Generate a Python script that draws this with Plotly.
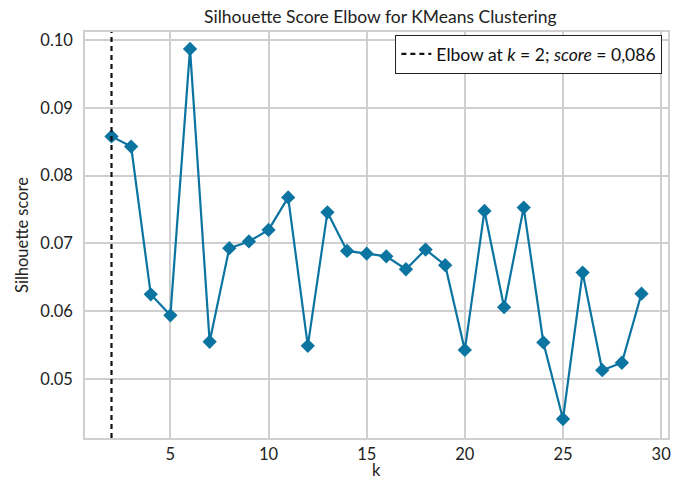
import plotly.graph_objects as go

k_values = list(range(2, 30))
silhouette_scores = [0.0858, 0.0843, 0.0625, 0.0594, 0.0987, 0.0555, 0.0693, 0.0703,
                     0.0720, 0.0768, 0.0549, 0.0746, 0.0689, 0.0685, 0.0681, 0.0662,
                     0.0691, 0.0668, 0.0543, 0.0748, 0.0606, 0.0753, 0.0554, 0.0441,
                     0.0657, 0.0513, 0.0524, 0.0626]
elbow_k = 2
elbow_score = 0.086
x_ticks = [5, 10, 15, 20, 25, 30]
y_ticks = [0.05, 0.06, 0.07, 0.08, 0.09, 0.10]
y_tick_labels = ["0.05", "0.06", "0.07", "0.08", "0.09", "0.10"]
x_label = "k"

FONT = "Lato"
BLUE = "#0b74a0"
GRID = "#cfcfcf"
DASH = "5px,4px"

W, H = 685, 479
PLOT_H = H - 32 - 41

fig = go.Figure()
fig.add_trace(go.Scatter(
    x=k_values, y=silhouette_scores, mode="lines+markers",
    line=dict(color=BLUE, width=2.2),
    marker=dict(symbol="diamond", size=11, color=BLUE),
    showlegend=False, hoverinfo="x+y",
))
fig.add_trace(go.Scatter(
    x=[None], y=[None], mode="lines",
    line=dict(color="#111111", width=2.2, dash=DASH),
    name=f"Elbow at <i>k</i> = {elbow_k}; <i>score</i> = {elbow_score:.3f}".replace(".", ","),
    showlegend=True,
))
fig.add_vline(x=elbow_k, line=dict(color="#111111", width=2.2, dash=DASH), layer="above")

fig.add_annotation(text=x_label, xref="paper", yref="paper",
                   x=0.5, y=-(470 - (H - 41)) / PLOT_H,
                   xanchor="center", yanchor="middle", showarrow=False,
                   font=dict(family=FONT, size=16.5, color="#222222"))

fig.update_layout(
    width=W, height=H,
    margin=dict(l=85, r=17, t=32, b=41),
    paper_bgcolor="white", plot_bgcolor="white",
    font=dict(family=FONT, size=16.5, color="#222222"),
    title=dict(text="Silhouette Score Elbow for KMeans Clustering",
               x=347 / W, xref="paper", xanchor="center",
               y=1 - 17 / H, yanchor="middle",
               font=dict(family=FONT, size=17.5, color="#222222")),
    legend=dict(x=0.99, y=0.993, xanchor="right", yanchor="top",
                bgcolor="white", bordercolor="#222222", borderwidth=1.2,
                font=dict(family=FONT, size=17.5, color="#111111"),
                itemwidth=30, tracegroupgap=0),
    xaxis=dict(range=[0.65, 30.35], tickvals=x_ticks, automargin=False,
               showgrid=True, gridcolor=GRID, gridwidth=1.5,
               showline=True, linecolor=GRID, linewidth=1.5, mirror=True,
               zeroline=False, ticks="", ticklen=0),
    yaxis=dict(range=[0.0413, 0.1012], tickvals=y_ticks, ticktext=y_tick_labels,
               automargin=False, ticklabelstandoff=7,
               showgrid=True, gridcolor=GRID, gridwidth=1.5,
               showline=True, linecolor=GRID, linewidth=1.5, mirror=True,
               zeroline=False, ticks="", ticklen=0,
               title=dict(text="Silhouette score", standoff=8, font=dict(size=16.5))),
)

fig.write_html("out.html", config={"displayModeBar": False},
               post_script="document.body.style.margin='0';")
